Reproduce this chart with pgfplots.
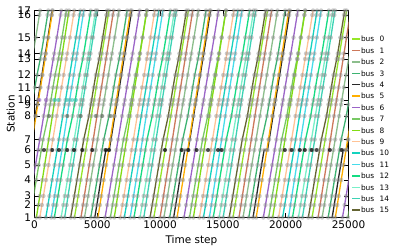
\documentclass[border=0pt]{standalone}
\usepackage{fontspec}
\setmainfont{DejaVu Sans}
\usepackage{pgfplots}
\usepackage{pgfplotstable}
\pgfplotsset{compat=1.18}
\definecolor{c0}{RGB}{150,230,40}
\definecolor{c1}{RGB}{205,120,90}
\definecolor{c2}{RGB}{140,190,140}
\definecolor{c3}{RGB}{60,179,113}
\definecolor{c4}{RGB}{40,40,40}
\definecolor{c5}{RGB}{255,175,0}
\definecolor{c6}{RGB}{155,100,200}
\definecolor{c7}{RGB}{120,200,100}
\definecolor{c8}{RGB}{130,220,20}
\definecolor{c9}{RGB}{255,195,150}
\definecolor{c10}{RGB}{20,210,190}
\definecolor{c11}{RGB}{70,220,235}
\definecolor{c12}{RGB}{20,220,130}
\definecolor{c13}{RGB}{120,240,200}
\definecolor{c14}{RGB}{60,210,180}
\definecolor{c15}{RGB}{100,100,50}
\definecolor{dotc}{RGB}{140,140,140}
\definecolor{dot8}{RGB}{80,100,80}

\pgfplotstableread{
pos L1 L2 L3 L4
0 3180 9500 15800 22100
12.5 3350 9670 15970 22270
21.5 3470 9790 16090 22390
37.5 3680 10000 16300 22600
52.5 3880 10200 16500 22800
67.5 4080 10400 16700 23000
78 4220 10540 16840 23140
101.5 4530 10850 17150 23450
113 4680 11000 17300 23600
117.5 4750 11070 17370 23670
130 4910 11230 17530 23830
142.5 5080 11400 17700 24000
158.5 5290 11610 17910 24210
164 5370 11690 17990 24290
180 5580 11900 18200 24500
202.5 5870 12190 18490 24790
207 5930 12250 18550 24850
}\busa
\pgfplotstableread{
pos L1 L2 L3 L4 L5
0 -2650 3700 10000 16280 22580
12.5 -2490 3860 10160 16440 22740
21.5 -2380 3970 10270 16550 22850
37.5 -2180 4170 10470 16750 23050
52.5 -1990 4360 10660 16940 23240
67.5 -1800 4550 10850 17130 23430
78 -1670 4680 10980 17260 23560
101.5 -1380 4970 11270 17550 23850
113 -1240 5110 11410 17690 23990
117.5 -1180 5170 11470 17750 24050
130 -1020 5330 11630 17910 24210
142.5 -860 5490 11790 18070 24370
158.5 -660 5690 11990 18270 24570
164 -590 5760 12060 18340 24640
180 -390 5960 12260 18540 24840
202.5 -110 6240 12540 18820 25120
207 -50 6300 12600 18880 25180
}\busb
\pgfplotstableread{
pos L1 L2 L3 L4 L5
0 -2300 3980 10300 16600 22900
12.5 -2130 4150 10470 16770 23070
21.5 -2010 4270 10590 16890 23190
37.5 -1800 4480 10800 17100 23400
52.5 -1600 4680 11000 17300 23600
67.5 -1400 4880 11200 17500 23800
78 -1260 5020 11340 17640 23940
101.5 -950 5330 11650 17950 24250
113 -800 5480 11800 18100 24400
117.5 -730 5550 11870 18170 24470
130 -570 5710 12030 18330 24630
142.5 -400 5880 12200 18500 24800
158.5 -190 6090 12410 18710 25010
164 -110 6170 12490 18790 25090
180 100 6380 12700 19000 25300
202.5 390 6670 12990 19290 25590
207 450 6730 13050 19350 25650
}\busc
\pgfplotstableread{
pos L1 L2 L3 L4 L5
0 -1800 4480 10760 17060 23380
12.5 -1630 4650 10930 17230 23550
21.5 -1510 4770 11050 17350 23670
37.5 -1300 4980 11260 17560 23880
52.5 -1100 5180 11460 17760 24080
67.5 -900 5380 11660 17960 24280
78 -760 5520 11800 18100 24420
101.5 -350 5930 12210 18510 24830
113 -200 6080 12360 18660 24980
117.5 -130 6150 12430 18730 25050
130 30 6310 12590 18890 25210
142.5 200 6480 12760 19060 25380
158.5 460 6740 13020 19320 25640
164 540 6820 13100 19400 25720
180 750 7030 13310 19610 25930
202.5 1040 7320 13600 19900 26220
207 1100 7380 13660 19960 26280
}\busd
\pgfplotstableread{
pos L1 L2 L3 L4 L5
0 -1530 4800 11080 17400 23700
12.5 -1370 4960 11240 17560 23860
21.5 -1250 5080 11360 17680 23980
37.5 -1050 5280 11560 17880 24180
52.5 -850 5480 11760 18080 24380
67.5 -650 5680 11960 18280 24580
67.5 -380 5950 12230 18550 24850
78 -240 6090 12370 18690 24990
101.5 60 6390 12670 18990 25290
113 200 6530 12810 19130 25430
117.5 270 6600 12880 19200 25500
130 430 6760 13040 19360 25660
142.5 590 6920 13200 19520 25820
158.5 790 7120 13400 19720 26020
164 870 7200 13480 19800 26100
180 1070 7400 13680 20000 26300
202.5 1350 7680 13960 20280 26580
207 1410 7740 14020 20340 26640
}\buse
\pgfplotstableread{
pos L1 L2 L3 L4 L5
0 -1150 5050 11350 17650 23950
12.5 -990 5210 11510 17810 24110
21.5 -880 5320 11620 17920 24220
37.5 -680 5520 11820 18120 24420
52.5 -490 5710 12010 18310 24610
67.5 -300 5900 12200 18500 24800
78 -170 6030 12330 18630 24930
101.5 120 6320 12620 18920 25220
113 260 6460 12760 19060 25360
117.5 320 6520 12820 19120 25420
130 480 6680 12980 19280 25580
142.5 640 6840 13140 19440 25740
158.5 840 7040 13340 19640 25940
164 910 7110 13410 19710 26010
180 1110 7310 13610 19910 26210
202.5 1390 7590 13890 20190 26490
207 1450 7650 13950 20250 26550
}\busf
\pgfplotstableread{
pos L1 L2 L3 L4 L5
0 -620 5620 11900 18220 24520
12.5 -450 5790 12070 18390 24690
21.5 -330 5910 12190 18510 24810
37.5 -120 6120 12400 18720 25020
52.5 80 6320 12600 18920 25220
67.5 280 6520 12800 19120 25420
78 420 6660 12940 19260 25560
101.5 730 6970 13250 19570 25870
113 880 7120 13400 19720 26020
117.5 950 7190 13470 19790 26090
130 1110 7350 13630 19950 26250
142.5 1280 7520 13800 20120 26420
158.5 1490 7730 14010 20330 26630
164 1570 7810 14090 20410 26710
180 1780 8020 14300 20620 26920
202.5 2070 8310 14590 20910 27210
207 2130 8370 14650 20970 27270
}\busg
\pgfplotstableread{
pos L1 L2 L3 L4 L5
0 -360 6040 12340 18640 24950
12.5 -190 6210 12510 18810 25120
21.5 -70 6330 12630 18930 25240
37.5 140 6540 12840 19140 25450
52.5 340 6740 13040 19340 25650
67.5 540 6940 13240 19540 25850
78 680 7080 13380 19680 25990
101.5 1090 7490 13790 20090 26400
113 1240 7640 13940 20240 26550
117.5 1310 7710 14010 20310 26620
130 1470 7870 14170 20470 26780
142.5 1640 8040 14340 20640 26950
158.5 1900 8300 14600 20900 27210
164 1980 8380 14680 20980 27290
180 2190 8590 14890 21190 27500
202.5 2480 8880 15180 21480 27790
207 2540 8940 15240 21540 27850
}\bush
\pgfplotstableread{
pos L1 L2 L3 L4
0 150 6350 12650 18960
12.5 310 6510 12810 19120
21.5 420 6620 12920 19230
37.5 620 6820 13120 19430
52.5 810 7010 13310 19620
67.5 1000 7200 13500 19810
78 1130 7330 13630 19940
101.5 1420 7620 13920 20230
113 1560 7760 14060 20370
117.5 1620 7820 14120 20430
130 1780 7980 14280 20590
142.5 1940 8140 14440 20750
158.5 2140 8340 14640 20950
164 2210 8410 14710 21020
180 2410 8610 14910 21220
202.5 2690 8890 15190 21500
207 2750 8950 15250 21560
}\busi
\pgfplotstableread{
pos L1 L2 L3 L4
0 420 6830 13130 19430
12.5 590 7000 13300 19600
21.5 710 7120 13420 19720
37.5 920 7330 13630 19930
52.5 1120 7530 13830 20130
67.5 1320 7730 14030 20330
78 1460 7870 14170 20470
101.5 1770 8180 14480 20780
113 1920 8330 14630 20930
117.5 1990 8400 14700 21000
130 2150 8560 14860 21160
142.5 2320 8730 15030 21330
158.5 2530 8940 15240 21540
164 2610 9020 15320 21620
180 2820 9230 15530 21830
202.5 3110 9520 15820 22120
207 3170 9580 15880 22180
}\busj
\pgfplotstableread{
pos L1 L2 L3 L4
0 900 7150 13450 19750
12.5 1070 7320 13620 19920
21.5 1190 7440 13740 20040
37.5 1400 7650 13950 20250
52.5 1600 7850 14150 20450
67.5 1800 8050 14350 20650
78 1940 8190 14490 20790
101.5 2250 8500 14800 21100
113 2400 8650 14950 21250
117.5 2470 8720 15020 21320
130 2630 8880 15180 21480
142.5 2800 9050 15350 21650
158.5 3010 9260 15560 21860
164 3090 9340 15640 21940
180 3300 9550 15850 22150
202.5 3590 9840 16140 22440
207 3650 9900 16200 22500
}\busk
\pgfplotstableread{
pos L1 L2 L3 L4
0 1330 7620 13920 20220
12.5 1490 7780 14080 20380
21.5 1600 7890 14190 20490
37.5 1800 8090 14390 20690
52.5 1990 8280 14580 20880
67.5 2180 8470 14770 21070
78 2310 8600 14900 21200
101.5 2600 8890 15190 21490
113 2740 9030 15330 21630
117.5 2800 9090 15390 21690
130 2960 9250 15550 21850
142.5 3120 9410 15710 22010
158.5 3320 9610 15910 22210
164 3390 9680 15980 22280
180 3590 9880 16180 22480
202.5 3870 10160 16460 22760
207 3930 10220 16520 22820
}\busl
\pgfplotstableread{
pos L1 L2 L3 L4
0 1580 7920 14230 20540
12.5 1750 8090 14400 20710
21.5 1870 8210 14520 20830
37.5 2080 8420 14730 21040
52.5 2280 8620 14930 21240
67.5 2480 8820 15130 21440
78 2620 8960 15270 21580
101.5 3030 9370 15680 21990
113 3180 9520 15830 22140
117.5 3250 9590 15900 22210
130 3410 9750 16060 22370
142.5 3580 9920 16230 22540
158.5 3840 10180 16490 22800
164 3920 10260 16570 22880
180 4130 10470 16780 23090
202.5 4420 10760 17070 23380
207 4480 10820 17130 23440
}\busm
\pgfplotstableread{
pos L1 L2 L3 L4
0 2120 8400 14700 21010
12.5 2290 8570 14870 21180
21.5 2410 8690 14990 21300
37.5 2620 8900 15200 21510
52.5 2820 9100 15400 21710
67.5 3020 9300 15600 21910
78 3160 9440 15740 22050
101.5 3470 9750 16050 22360
113 3620 9900 16200 22510
117.5 3690 9970 16270 22580
130 3850 10130 16430 22740
142.5 4020 10300 16600 22910
158.5 4230 10510 16810 23120
164 4310 10590 16890 23200
180 4520 10800 17100 23410
202.5 4810 11090 17390 23700
207 4870 11150 17450 23760
}\busn
\pgfplotstableread{
pos L1 L2 L3 L4
0 2400 8700 15020 21330
12.5 2560 8860 15180 21490
21.5 2670 8970 15290 21600
37.5 2870 9170 15490 21800
52.5 3060 9360 15680 21990
67.5 3250 9550 15870 22180
78 3380 9680 16000 22310
101.5 3670 9970 16290 22600
113 3810 10110 16430 22740
117.5 3870 10170 16490 22800
130 4030 10330 16650 22960
142.5 4190 10490 16810 23120
158.5 4390 10690 17010 23320
164 4460 10760 17080 23390
180 4660 10960 17280 23590
202.5 4940 11240 17560 23870
207 5000 11300 17620 23930
}\buso
\pgfplotstableread{
pos L1 L2 L3 L4
0 2880 9200 15500 21800
12.5 3050 9370 15670 21970
21.5 3170 9490 15790 22090
37.5 3380 9700 16000 22300
52.5 3580 9900 16200 22500
67.5 3780 10100 16400 22700
78 3920 10240 16540 22840
101.5 4330 10650 16950 23250
113 4480 10800 17100 23400
117.5 4550 10870 17170 23470
130 4710 11030 17330 23630
142.5 4880 11200 17500 23800
158.5 5140 11460 17760 24060
164 5220 11540 17840 24140
180 5430 11750 18050 24350
202.5 5720 12040 18340 24640
207 5780 12100 18400 24700
}\busp

\newcommand{\busdots}[2]{\pgfplotsinvokeforeach{#2}{\addplot[only marks, mark=*, mark size=2.2pt, color=dotc, draw opacity=0, fill opacity=0.45, forget plot] table[x=##1, y=pos]{#1};}}
\newcommand{\buslines}[3]{\pgfplotsinvokeforeach{#2}{\addplot[color=#3, line width=1.3pt, no marks, forget plot] table[x=##1, y=pos]{#1};}}

\begin{document}
\begin{tikzpicture}
\useasboundingbox (-34.5pt,-32.5pt) rectangle (364.5pt,217.5pt);
\begin{axis}[
  at={(0pt,0pt)}, anchor=south west,
  width=314pt, height=207pt, scale only axis,
  xmin=0, xmax=25000, ymin=0, ymax=207,
  xtick={0,5000,10000,15000,20000,25000},
  scaled x ticks=false,
  xticklabel style={/pgf/number format/1000 sep={}},
  /pgf/number format/assume math mode=true,
  ytick={0,12.5,21.5,37.5,52.5,67.5,78,101.5,113,117.5,130,142.5,158.5,164,180,202.5,207},
  yticklabels={1,2,3,4,5,6,7,8,9,10,11,12,13,14,15,16,17},
  tick align=inside,
  major tick length=5pt,
  tick style={black, line width=0.6pt},
  axis line style={line width=0.8pt},
  ticklabel style={font=\fontsize{10.5}{12}\selectfont},
  label style={font=\fontsize{10.5}{12}\selectfont},
  xlabel={Time step}, ylabel={Station},
  ylabel shift=-4pt,
  legend cell align=left,
  legend image code/.code={\draw[#1] (0pt,0pt) -- (7.6pt,0pt);},
  legend style={at={(1,0.4486)}, anchor=west, xshift=2.7pt, draw=none, fill=none, inner sep=0pt,
    font=\fontsize{7.4}{8}\selectfont, row sep=4.8pt,
    nodes={inner sep=0.5pt, text height=5.6pt, text depth=0pt}},
]
\busdots{\busa}{L1,L2,L3,L4}
\busdots{\busb}{L1,L2,L3,L4,L5}
\busdots{\busc}{L1,L2,L3,L4,L5}
\busdots{\busd}{L1,L2,L3,L4,L5}
\busdots{\buse}{L1,L2,L3,L4,L5}
\busdots{\busf}{L1,L2,L3,L4,L5}
\busdots{\busg}{L1,L2,L3,L4,L5}
\busdots{\bush}{L1,L2,L3,L4,L5}
\busdots{\busi}{L1,L2,L3,L4}
\busdots{\busj}{L1,L2,L3,L4}
\busdots{\busk}{L1,L2,L3,L4}
\busdots{\busl}{L1,L2,L3,L4}
\busdots{\busm}{L1,L2,L3,L4}
\busdots{\busn}{L1,L2,L3,L4}
\busdots{\buso}{L1,L2,L3,L4}
\busdots{\busp}{L1,L2,L3,L4}
\buslines{\busa}{L1,L2,L3,L4}{c0}
\buslines{\busb}{L1,L2,L3,L4,L5}{c1}
\buslines{\busc}{L1,L2,L3,L4,L5}{c2}
\buslines{\busd}{L1,L2,L3,L4,L5}{c3}
\buslines{\buse}{L1,L2,L3,L4,L5}{c4}
\buslines{\busf}{L1,L2,L3,L4,L5}{c5}
\buslines{\busg}{L1,L2,L3,L4,L5}{c6}
\buslines{\bush}{L1,L2,L3,L4,L5}{c7}
\buslines{\busi}{L1,L2,L3,L4}{c8}
\buslines{\busj}{L1,L2,L3,L4}{c9}
\buslines{\busk}{L1,L2,L3,L4}{c10}
\buslines{\busl}{L1,L2,L3,L4}{c11}
\buslines{\busm}{L1,L2,L3,L4}{c12}
\buslines{\busn}{L1,L2,L3,L4}{c13}
\buslines{\buso}{L1,L2,L3,L4}{c14}
\buslines{\busp}{L1,L2,L3,L4}{c15}
\addplot[only marks, mark=*, mark size=2pt, color=black, draw opacity=0, fill opacity=0.7, forget plot] coordinates {
(756,67.5) (1417,67.5) (1950,67.5) (2611,67.5) (3144,67.5) (3805,67.5) (4601,67.5) (5668,67.5) (5930,67.5)
(10390,67.5) (11720,67.5) (12250,67.5) (12910,67.5) (13810,67.5) (14610,67.5) (14900,67.5)
(19940,67.5) (20470,67.5) (21130,67.5) (21530,67.5) (22060,67.5) (22460,67.5) (23520,67.5) (24450,67.5)};
\addplot[only marks, mark=*, mark size=2pt, color=dot8, draw opacity=0, fill opacity=0.55, forget plot] coordinates {
(1154,101.5) (2611,101.5) (3677,101.5) (4870,101.5) (5400,101.5) (6065,101.5)};
\addplot[only marks, mark=*, mark size=2pt, color=c6, draw opacity=0, fill opacity=0.55, forget plot] coordinates {
(400,117.5) (900,117.5)};
\addplot[only marks, mark=*, mark size=2pt, color=c10, draw opacity=0, fill opacity=0.5, forget plot] coordinates {
(1600,117.5) (1900,117.5) (2600,117.5) (3000,117.5) (3300,117.5)};
\addlegendimage{color=c0, line width=1.5pt}\addlegendentry{bus\hspace{5.3pt}0}
\addlegendimage{color=c1, line width=1.5pt}\addlegendentry{bus\hspace{5.3pt}1}
\addlegendimage{color=c2, line width=1.5pt}\addlegendentry{bus\hspace{5.3pt}2}
\addlegendimage{color=c3, line width=1.5pt}\addlegendentry{bus\hspace{5.3pt}3}
\addlegendimage{color=c4, line width=1.5pt}\addlegendentry{bus\hspace{5.3pt}4}
\addlegendimage{color=c5, line width=1.5pt}\addlegendentry{bus\hspace{5.3pt}5}
\addlegendimage{color=c6, line width=1.5pt}\addlegendentry{bus\hspace{5.3pt}6}
\addlegendimage{color=c7, line width=1.5pt}\addlegendentry{bus\hspace{5.3pt}7}
\addlegendimage{color=c8, line width=1.5pt}\addlegendentry{bus\hspace{5.3pt}8}
\addlegendimage{color=c9, line width=1.5pt}\addlegendentry{bus\hspace{5.3pt}9}
\addlegendimage{color=c10, line width=1.5pt}\addlegendentry{bus\hspace{5.3pt}10}
\addlegendimage{color=c11, line width=1.5pt}\addlegendentry{bus\hspace{5.3pt}11}
\addlegendimage{color=c12, line width=1.5pt}\addlegendentry{bus\hspace{5.3pt}12}
\addlegendimage{color=c13, line width=1.5pt}\addlegendentry{bus\hspace{5.3pt}13}
\addlegendimage{color=c14, line width=1.5pt}\addlegendentry{bus\hspace{5.3pt}14}
\addlegendimage{color=c15, line width=1.5pt}\addlegendentry{bus\hspace{5.3pt}15}
\end{axis}
\end{tikzpicture}
\end{document}
